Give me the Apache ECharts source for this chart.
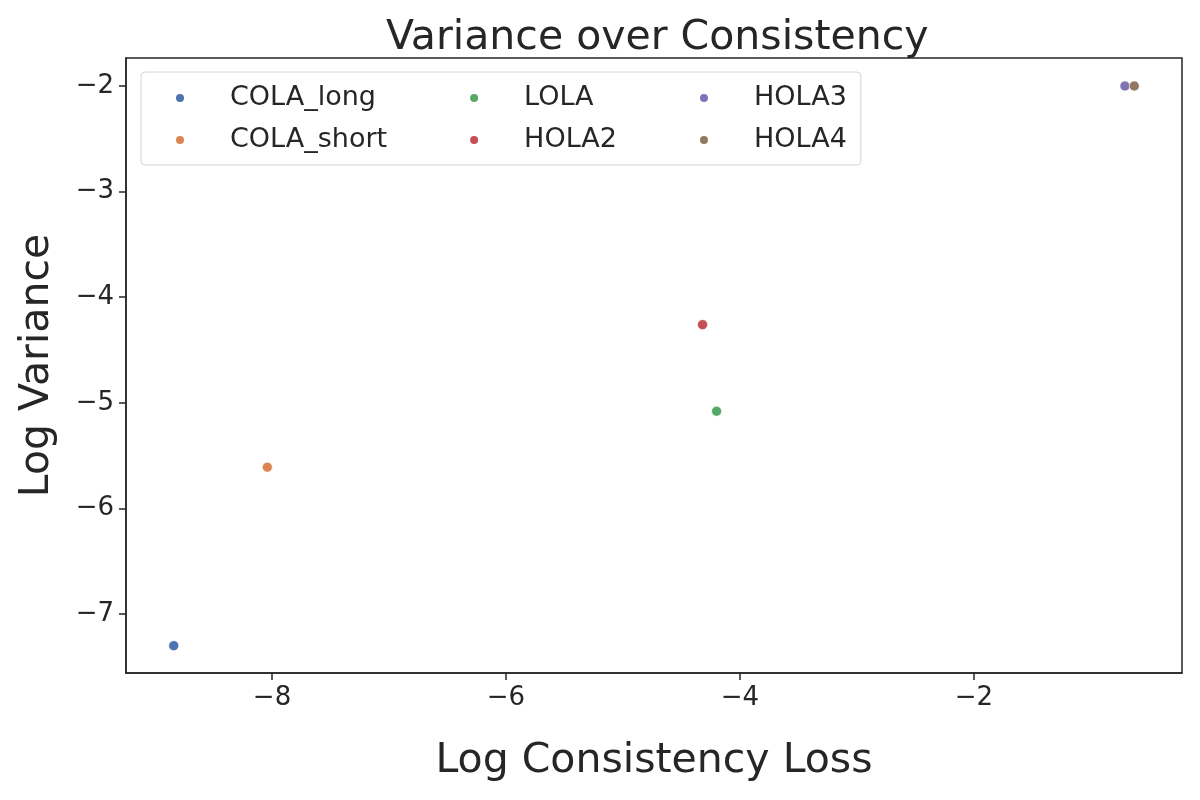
<!DOCTYPE html>
<html>
<head>
<meta charset="utf-8">
<script src="https://cdn.jsdelivr.net/npm/echarts@6/dist/echarts.min.js"></script>
<style>
  html, body { margin: 0; padding: 0; background: #fff; }
  #main { width: 1200px; height: 800px; }
</style>
</head>
<body>
<div id="main"></div>
<script>
// methods, in legend order
var methods = ['COLA_long', 'COLA_short', 'LOLA', 'HOLA2', 'HOLA3', 'HOLA4'];
// log consistency loss / log variance, one point per method
var logLoss = [-8.84, -8.04, -4.20, -4.32, -0.71, -0.63];
var logVariance = [-7.30, -5.61, -5.08, -4.26, -2.00, -2.00];
// tick values shown on the axes
var xTicks = [-8, -6, -4, -2];
var yTicks = [-7, -6, -5, -4, -3, -2];

var colors = ['#4c72b0', '#dd8452', '#55a868', '#c44e52', '#8172b3', '#937860'];
var ink = '#262626';
var font = 'DejaVu Sans';

function minus(v) {
  return String(v).replace('-', '\u2212');
}

var chart = echarts.init(document.getElementById('main'));

var series = methods.map(function (name, i) {
  return {
    name: name,
    type: 'scatter',
    symbol: 'circle',
    symbolSize: 10,
    itemStyle: { color: colors[i], borderColor: '#fff', borderWidth: 0.6, opacity: 1 },
    data: [[logLoss[i], logVariance[i]]]
  };
});

// last legend column gets no extra right spacing
var legendData = methods.map(function (name, i) {
  var lastCol = i >= 4;
  return {
    name: name,
    textStyle: { padding: [0, lastCol ? 0 : 69, 0, 40] }
  };
});

var option = {
  animation: false,
  backgroundColor: '#fff',
  color: colors,
  title: {
    text: 'Variance over Consistency',
    left: 381,
    top: 13,
    textStyle: { fontFamily: font, fontSize: 41, fontWeight: 'normal', color: ink }
  },
  legend: {
    orient: 'vertical',
    left: 141,
    top: 72,
    height: 100,
    padding: [11, 14, 10, 33],
    itemGap: 12,
    itemWidth: 10,
    itemHeight: 10,
    icon: 'circle',
    borderColor: '#d4d4d4',
    borderWidth: 1,
    borderRadius: 4,
    backgroundColor: '#fff',
    textStyle: { fontFamily: font, fontSize: 27, color: ink, lineHeight: 30 },
    data: legendData
  },
  grid: {
    left: 126,
    right: 18,
    top: 58,
    bottom: 127,
    show: true,
    borderColor: ink,
    borderWidth: 1.5,
    containLabel: false
  },
  xAxis: {
    type: 'value',
    min: -9.248,
    max: -0.222,
    name: 'Log Consistency Loss',
    nameLocation: 'middle',
    nameGap: 68,
    nameTextStyle: { fontFamily: font, fontSize: 41, color: ink },
    axisLine: { show: true, lineStyle: { color: ink, width: 1.5 } },
    axisTick: { show: true, inside: false, length: 7, lineStyle: { color: ink, width: 1.5 }, customValues: xTicks },
    axisLabel: {
      fontFamily: font, fontSize: 26, color: ink, margin: 12,
      customValues: xTicks,
      formatter: minus
    },
    splitLine: { show: false }
  },
  yAxis: {
    type: 'value',
    min: -7.559,
    max: -1.735,
    name: 'Log Variance',
    nameLocation: 'middle',
    nameGap: 68,
    nameTextStyle: { fontFamily: font, fontSize: 41, color: ink },
    axisLine: { show: true, lineStyle: { color: ink, width: 1.5 } },
    axisTick: { show: true, inside: false, length: 7, lineStyle: { color: ink, width: 1.5 }, customValues: yTicks },
    axisLabel: {
      fontFamily: font, fontSize: 26, color: ink, margin: 12,
      customValues: yTicks,
      formatter: minus
    },
    splitLine: { show: false }
  },
  series: series
};

chart.setOption(option);
</script>
</body>
</html>
